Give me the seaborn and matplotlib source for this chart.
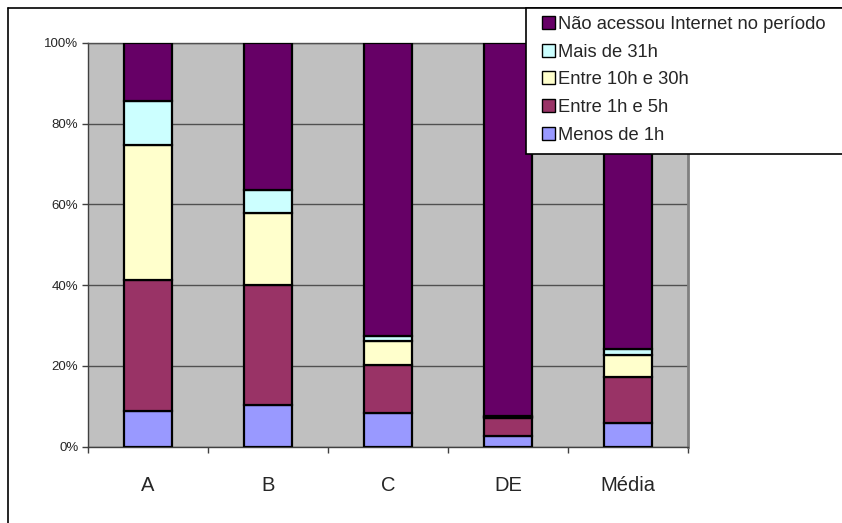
import matplotlib
matplotlib.use("Agg")
import matplotlib.pyplot as plt
from matplotlib.patches import Rectangle
from matplotlib.lines import Line2D
from matplotlib.ticker import FixedLocator
import seaborn as sns
import numpy as np

# Classes and time-online shares (%)
categories = ["A", "B", "C", "DE", "Média"]
menos_1h = [8.9, 10.3, 8.3, 2.5, 5.8]
entre_1h_5h = [32.3, 29.8, 11.9, 4.5, 11.4]
entre_10h_30h = [33.5, 17.8, 6.0, 0.4, 5.5]
mais_31h = [10.9, 5.7, 1.1, 0.2, 1.5]
nao_acessou = [14.4, 36.4, 72.7, 92.4, 75.8]

series_names = ["Menos de 1h", "Entre 1h e 5h", "Entre 10h e 30h",
                "Mais de 31h", "Não acessou Internet no período"]
series_values = [menos_1h, entre_1h_5h, entre_10h_30h, mais_31h, nao_acessou]
series_colors = ["#9999FF", "#993366", "#FFFFCC", "#CCFFFF", "#660066"]
y_ticks = [0, 20, 40, 60, 80, 100]

sns.set_style("white")
plt.rcParams["font.family"] = ["Liberation Sans", "DejaVu Sans"]

W, H = 842, 523
fig = plt.figure(figsize=(W / 100, H / 100), dpi=100)
ax = fig.add_axes([88 / W, (H - 446.5) / H, 600 / W, 403.5 / H])
ax.set_facecolor("#C0C0C0")

bottom = np.zeros(len(categories))
handles = []
for name, vals, col in zip(series_names, series_values, series_colors):
    sns.barplot(x=categories, y=vals, bottom=bottom, color=col, width=0.4,
                edgecolor="black", linewidth=1.6, saturation=1, ax=ax, zorder=3)
    handles.append(Rectangle((0, 0), 1, 1, facecolor=col, edgecolor="black", linewidth=1.0))
    bottom = bottom + np.array(vals)

ax.set_ylim(0, 100)
ax.set_xlim(-0.5, len(categories) - 0.5)
ax.set_yticks(y_ticks)
ax.set_yticklabels([f"{t}%" for t in y_ticks], fontsize=9.5)
ax.yaxis.grid(True, color="#505050", linewidth=1.0, zorder=1)
ax.set_axisbelow(True)
ax.tick_params(axis="y", direction="out", length=4, width=1, color="#404040", pad=3, left=True)
ax.tick_params(axis="x", which="major", length=0, pad=21, labelsize=14.5)
ax.xaxis.set_minor_locator(FixedLocator(np.arange(-0.5, len(categories), 1.0)))
ax.tick_params(axis="x", which="minor", direction="out", length=4, width=1,
               color="#404040", bottom=True)
ax.set_xlabel("")
ax.set_ylabel("")
for side in ["left", "bottom"]:
    ax.spines[side].set_color("#404040")
    ax.spines[side].set_linewidth(1.0)
ax.spines["top"].set_color("#505050")
ax.spines["top"].set_linewidth(1.0)
ax.spines["right"].set_color("#808080")
ax.spines["right"].set_linewidth(2.0)

# Outer chart frame (top and left edges)
fig.add_artist(Line2D([8 / W, 8 / W], [0, 1 - 8 / H], color="black", linewidth=1.2,
                      transform=fig.transFigure))
fig.add_artist(Line2D([8 / W, 1], [1 - 8 / H, 1 - 8 / H], color="black", linewidth=1.2,
                      transform=fig.transFigure))

# Legend box
fig.add_artist(Rectangle((526 / W, 1 - 154 / H), (W - 526 + 10) / W, (154 - 8) / H,
                         transform=fig.transFigure, facecolor="white",
                         edgecolor="black", linewidth=1.2, zorder=4))
fig.legend(handles[::-1], series_names[::-1], loc="upper left",
           bbox_to_anchor=(542 / W, 1 - 16 / H), frameon=False, fontsize=13.2,
           handlelength=0.7, handleheight=0.7, handletextpad=0.2,
           labelspacing=0.58, borderpad=0, borderaxespad=0)

fig.savefig("out.png", dpi=100)
